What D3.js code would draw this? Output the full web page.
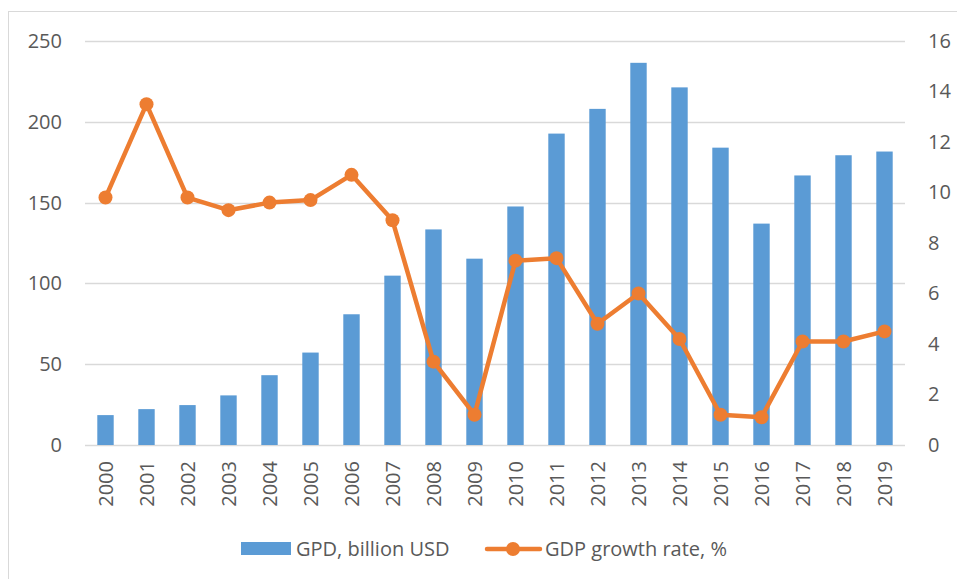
<!DOCTYPE html>
<html>
<head>
<meta charset="utf-8">
<script src="https://cdn.jsdelivr.net/npm/d3@7"></script>
<style>
  body { margin: 0; background: #fff; }
  text { font-family: "Open Sans", "Noto Sans", sans-serif; fill: #595959; }
</style>
</head>
<body>
<script>
// data
const years = ["2000","2001","2002","2003","2004","2005","2006","2007","2008","2009",
               "2010","2011","2012","2013","2014","2015","2016","2017","2018","2019"]
const gdp = [18.5, 22.2, 24.7, 30.7, 43.2, 57.2, 80.9, 104.8, 133.4, 115.3,
             147.6, 192.7, 208, 236.5, 221.3, 184, 137, 166.8, 179.3, 181.6]
const growth = [9.8, 13.5, 9.8, 9.3, 9.6, 9.7, 10.7, 8.9, 3.3, 1.2,
                7.3, 7.4, 4.8, 6.0, 4.2, 1.2, 1.1, 4.1, 4.1, 4.5]
const leftTicks = [0, 50, 100, 150, 200, 250]
const rightTicks = [0, 2, 4, 6, 8, 10, 12, 14, 16]
const seriesNames = ["GPD, billion USD", "GDP growth rate, %"]

const svgWidth = 957, svgHeight = 579
const margin = {top: 41, right: 52, bottom: 134, left: 85}
const gWidth = svgWidth - margin.left - margin.right
const gHeight = svgHeight - margin.top - margin.bottom

const blue = "#5B9BD5", orange = "#ED7D31"

const svg = d3.select("body").append("svg")
  .attr("width", svgWidth)
  .attr("height", svgHeight)

// chart frame
svg.append("rect")
  .attr("x", 8.5).attr("y", 11.5)
  .attr("width", 960).attr("height", 600)
  .attr("fill", "none")
  .attr("stroke", "#D9D9D9")

const g = svg.append("g")
  .attr("transform", "translate(" + margin.left + "," + margin.top + ")")

const xScale = d3.scaleBand()
  .domain(years)
  .range([0, gWidth])
  .paddingInner(0.6)
  .paddingOuter(0.3)

const yLeft = d3.scaleLinear().domain([0, 250]).range([gHeight, 0])
const yRight = d3.scaleLinear().domain([0, 16]).range([gHeight, 0])

// gridlines
g.append("g")
  .selectAll("line")
  .data(leftTicks)
  .enter().append("line")
  .attr("x1", 0).attr("x2", gWidth)
  .attr("y1", d => Math.round(yLeft(d)) + 0.5)
  .attr("y2", d => Math.round(yLeft(d)) + 0.5)
  .attr("stroke", "#D9D9D9")
  .attr("stroke-width", 1.5)

// left axis
const leftAxis = g.append("g")
  .call(d3.axisLeft(yLeft).tickValues(leftTicks).tickSize(0).tickPadding(23))
leftAxis.select(".domain").remove()
leftAxis.selectAll("text").style("font-size", "20px").attr("fill", "#595959")

// right axis
const rightAxis = g.append("g")
  .attr("transform", "translate(" + gWidth + ",0)")
  .call(d3.axisRight(yRight).tickValues(rightTicks).tickSize(0).tickPadding(23))
rightAxis.select(".domain").remove()
rightAxis.selectAll("text").style("font-size", "20px").attr("fill", "#595959")

// bars
g.append("g")
  .selectAll("rect")
  .data(gdp)
  .enter().append("rect")
  .attr("x", (d, i) => xScale(years[i]))
  .attr("y", d => yLeft(d))
  .attr("width", xScale.bandwidth())
  .attr("height", d => gHeight - yLeft(d))
  .attr("fill", blue)

// x axis labels
const xAxis = g.append("g")
  .attr("transform", "translate(0," + gHeight + ")")
  .call(d3.axisBottom(xScale).tickSize(0).tickPadding(0))
xAxis.select(".domain").remove()
xAxis.selectAll("text")
  .style("font-size", "20px")
  .attr("fill", "#595959")
  .attr("transform", "rotate(-90)")
  .attr("text-anchor", "end")
  .attr("x", -16)
  .attr("y", 0)
  .attr("dy", "0.35em")

// line
const xCenter = i => xScale(years[i]) + xScale.bandwidth() / 2
const line = d3.line()
  .x((d, i) => xCenter(i))
  .y(d => yRight(d))

g.append("path")
  .datum(growth)
  .attr("d", line)
  .attr("fill", "none")
  .attr("stroke", orange)
  .attr("stroke-width", 4.5)
  .attr("stroke-linejoin", "round")

g.append("g")
  .selectAll("circle")
  .data(growth)
  .enter().append("circle")
  .attr("cx", (d, i) => xCenter(i))
  .attr("cy", d => yRight(d))
  .attr("r", 7)
  .attr("fill", orange)

// legend
const legend = svg.append("g").attr("transform", "translate(241,549)")
legend.append("rect")
  .attr("x", 0).attr("y", -7)
  .attr("width", 50).attr("height", 13)
  .attr("fill", blue)
legend.append("text")
  .attr("x", 55).attr("y", 0).attr("dy", "0.35em")
  .style("font-size", "20px")
  .text(seriesNames[0])
legend.append("line")
  .attr("x1", 246).attr("x2", 299)
  .attr("y1", 0).attr("y2", 0)
  .attr("stroke", orange).attr("stroke-width", 4.5)
  .attr("stroke-linecap", "round")
legend.append("circle")
  .attr("cx", 272).attr("cy", 0).attr("r", 7)
  .attr("fill", orange)
legend.append("text")
  .attr("x", 304).attr("y", 0).attr("dy", "0.35em")
  .style("font-size", "20px")
  .text(seriesNames[1])
</script>
</body>
</html>
